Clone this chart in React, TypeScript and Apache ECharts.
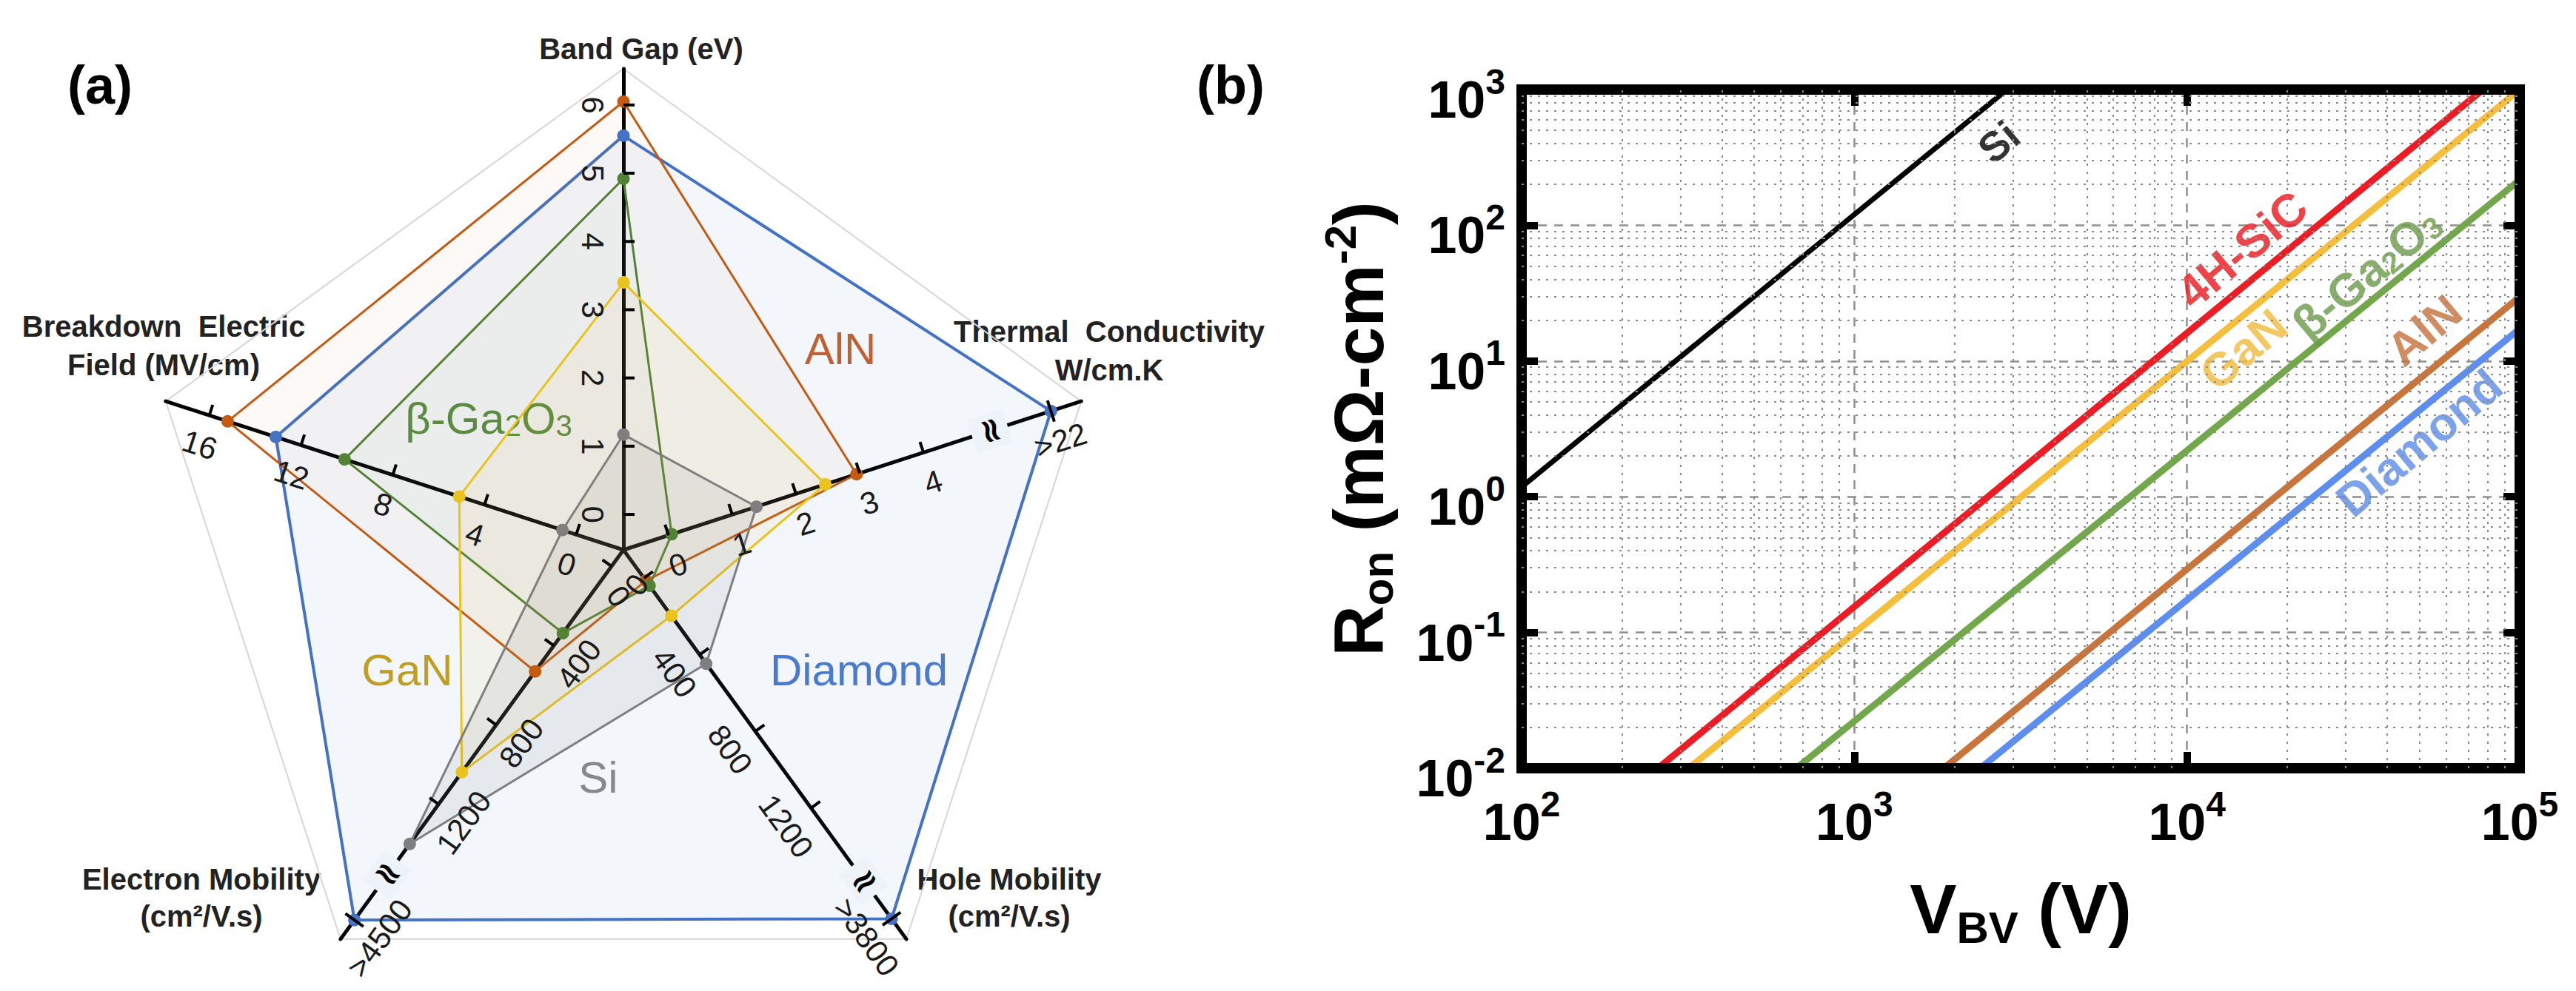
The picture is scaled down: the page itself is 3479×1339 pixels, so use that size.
import React, { useEffect, useRef } from 'react';
import * as echarts from 'echarts';

const FONT = "'Liberation Sans', Arial, Helvetica, sans-serif";

// ================= Panel (a): radar =================
// indicator order, counter-clockwise from the top
const indicatorNames = ['Band Gap', 'Breakdown Electric Field', 'Electron Mobility', 'Hole Mobility', 'Thermal Conductivity'];
const indicatorMin = [-0.52, -2.06, -83, -147, -0.707];
const indicatorMax = [6.53, 17.9, 1880, 1884, 6.475];

const materialsA = ['Diamond', 'AlN', 'β-Ga2O3', 'GaN', 'Si'];
const bandGapEV = [5.55, 6.05, 4.92, 3.4, 1.17];
const breakdownMVcm = [13.1, 15.2, 10.1, 5.1, 0.6];
const electronMobility = [4500, 530, 337, 1038, 1400];
const holeMobility = [3800, 14, 40, 197, 447];
const thermalConductivity = [22, 2.95, 0.05, 2.46, 1.38];

const bandGapTicks = [0, 1, 2, 3, 4, 5, 6];
const breakdownTicks = [0, 4, 8, 12, 16];
const electronTicks = [0, 400, 800, 1200];
const holeTicks = [0, 400, 800, 1200];
const thermalTicks = [0, 1, 2, 3, 4];

// broken axes: values above the threshold are drawn past the break symbol
const breakThreshold = [Infinity, Infinity, 1500, 1500, 5];
const breakSymbolAt = [NaN, NaN, 1557, 1578, 5.04];
const overflowDrawnAt = [NaN, NaN, 1784, 1778, 6.0];
const overflowLabels = ['', '', '>4500', '>3800', '>22'];

const colorsA = ['#4472c4', '#c55a11', '#548235', '#e9c41f', '#7f7f7f'];
const fillsA = ['rgba(68,114,196,0.09)', 'rgba(197,90,17,0.05)', 'rgba(84,130,53,0.05)', 'rgba(233,196,31,0.09)', 'rgba(127,127,127,0.17)'];
const textColorsA = ['#4a7bd0', '#c8602a', '#5b8f3b', '#c9a21a', '#8a8a8a'];

// ================= Panel (b): Ron vs VBV =================
const lineNames = ['Si', '4H-SiC', 'GaN', 'β-Ga2O3', 'AlN', 'Diamond'];
const lineStartV = [100, 257, 318, 670, 1858, 2393];
const lineStartR = [1.18, 0.01, 0.01, 0.01, 0.01, 0.01];
const lineEndV = [2877, 77500, 100000, 100000, 100000, 100000];
const lineEndR = [1000, 1000, 1000, 216, 29.7, 17.3];
const lineColors = ['#000000', '#ec1c24', '#f5be3c', '#72a84a', '#c9743a', '#5b8ef0'];
const lineLabelV = [2717, 14620, 14750, 34600, 51600, 49800];
const lineLabelR = [410, 66.4, 12.2, 44.5, 16.9, 2.5];
const lineLabelColors = ['#000000', '#e8141c', '#f0b93a', '#6a9a46', '#c4703a', '#5a8be6'];

const minorMantissas = [2, 3, 4, 5, 6, 7, 8, 9];
const xDecades = [100, 1000, 10000];
const yDecades = [0.01, 0.1, 1, 10, 100];

export default function App() {
  const ref = useRef<HTMLDivElement>(null);
  useEffect(() => {
    document.body.style.margin = '0';
    const chart = echarts.init(ref.current!, null, { renderer: 'svg' });

    const axisValues = [bandGapEV, breakdownMVcm, electronMobility, holeMobility, thermalConductivity];
    const drawn = (i: number, v: number) => (v > breakThreshold[i] ? overflowDrawnAt[i] : v);

    const axisTicks = [bandGapTicks, breakdownTicks, electronTicks, holeTicks, thermalTicks];
    const axisAngle = [0, 72, 144, 216, 288];
    const labelSide = [1, 1, 1, -1, -1];
    const norm = (i: number, v: number) => (v - indicatorMin[i]) / (indicatorMax[i] - indicatorMin[i]);
    const tickItems: { axis: number; r: number; text: string; kind: string }[] = [];
    axisTicks.forEach((ts, i) => ts.forEach((t) => tickItems.push({ axis: i, r: norm(i, t), text: String(t), kind: 'tick' })));
    [2, 3, 4].forEach((i) => {
      tickItems.push({ axis: i, r: norm(i, breakSymbolAt[i]), text: '≈', kind: 'break' });
      tickItems.push({ axis: i, r: norm(i, overflowDrawnAt[i]), text: overflowLabels[i], kind: 'over' });
    });

    const radarData = materialsA.map((m, k) => ({
      name: m,
      value: axisValues.map((arr, i) => drawn(i, arr[k])),
      symbol: 'circle',
      symbolSize: 17,
      lineStyle: { color: colorsA[k], width: k === 0 ? 4 : 3 },
      itemStyle: { color: colorsA[k] },
      areaStyle: { color: fillsA[k] },
    }));

    const powRich = {
      b: { fontSize: 70, fontWeight: 'bold', fontFamily: FONT, color: '#000', lineHeight: 70, padding: [28, 0, 0, 0] },
      s: { fontSize: 48, fontWeight: 'bold', fontFamily: FONT, color: '#000', lineHeight: 48, verticalAlign: 'top' },
    };
    const powLabel = (v: number) => `{b|10}{s|${Math.round(Math.log10(v))}}`;
    const titleRich = {
      m: { fontSize: 95, fontWeight: 'bold', fontFamily: FONT, color: '#000', lineHeight: 110 },
      sub: { fontSize: 60, fontWeight: 'bold', fontFamily: FONT, color: '#000', lineHeight: 60, verticalAlign: 'bottom' },
      sup: { fontSize: 60, fontWeight: 'bold', fontFamily: FONT, color: '#000', lineHeight: 60, verticalAlign: 'top' },
    };
    const tick = { show: true, inside: true, length: 22, lineStyle: { color: '#000', width: 10 } };
    const majorGrid = { show: true, lineStyle: { type: [12, 10], color: '#8f8f8f', width: 2.5 } };

    const minorX: number[] = [];
    xDecades.forEach((d) => minorMantissas.forEach((m) => minorX.push(m * d)));
    const minorY: number[] = [];
    yDecades.forEach((d) => minorMantissas.forEach((m) => minorY.push(+(m * d).toPrecision(3))));

    const labelRich = (color: string, size: number) => ({
      n: { fontSize: size, fontWeight: 'bold', fontFamily: FONT, color },
      s: { fontSize: Math.round(size * 0.65), fontWeight: 'bold', fontFamily: FONT, color, verticalAlign: 'bottom', lineHeight: size * 0.9 },
    });

    const option: any = {
      animation: false,
      backgroundColor: '#ffffff',
      textStyle: { fontFamily: FONT },
      radar: {
        center: [842, 743],
        radius: 650,
        startAngle: 90,
        splitNumber: 1,
        shape: 'polygon',
        indicator: indicatorNames.map((n, i) => ({ name: n, min: indicatorMin[i], max: indicatorMax[i] })),
        axisName: { show: false },
        axisLine: { lineStyle: { color: '#000', width: 5 } },
        splitLine: { lineStyle: { color: '#d6d6d6', width: 2 } },
        splitArea: { show: false },
        axisTick: { show: false },
        axisLabel: { show: false },
      },
      polar: { center: [842, 743], radius: 650 },
      angleAxis: { type: 'value', min: 0, max: 360, startAngle: 90, clockwise: false, show: false },
      radiusAxis: { type: 'value', min: 0, max: 1, show: false },
      grid: { left: 2055, top: 121, width: 1348, height: 917, show: true, borderColor: '#000', borderWidth: 14, z: 5 },
      xAxis: [
        {
          type: 'log', logBase: 10, min: 100, max: 100000, position: 'bottom',
          axisLine: { show: false }, axisTick: tick, minorTick: { show: false },
          axisLabel: { formatter: powLabel, margin: 24, rich: powRich },
          splitLine: majorGrid,
          name: '{m|V}{sub|BV}{m| (V)}', nameLocation: 'middle', nameGap: 135, nameMoveOverlap: false,
          nameTextStyle: { rich: titleRich },
        },
        {
          type: 'log', logBase: 10, min: 100, max: 100000, position: 'top',
          axisLine: { show: false }, axisTick: tick, axisLabel: { show: false }, splitLine: { show: false },
        },
      ],
      yAxis: [
        {
          type: 'log', logBase: 10, min: 0.01, max: 1000, position: 'left',
          axisLine: { show: false }, axisTick: tick, minorTick: { show: false },
          axisLabel: { formatter: powLabel, margin: 22, rich: powRich },
          splitLine: majorGrid,
          name: '{m|R}{sub|on}{m| (mΩ-cm}{sup|-2}{m|)}', nameLocation: 'middle', nameGap: 165, nameRotate: 90, nameMoveOverlap: false,
          nameTextStyle: { rich: titleRich },
        },
        {
          type: 'log', logBase: 10, min: 0.01, max: 1000, position: 'right',
          axisLine: { show: false }, axisTick: tick, axisLabel: { show: false }, splitLine: { show: false },
        },
      ],
      series: [
        {
          type: 'radar', radarIndex: 0, z: 2, silent: true,
          data: radarData,
        },
        {
          type: 'custom', coordinateSystem: 'polar', polarIndex: 0, z: 6, silent: true,
          data: tickItems.map((t, k) => [t.r, axisAngle[t.axis], k]),
          renderItem: (params: any, api: any) => {
            const t = tickItems[api.value(2)];
            const r = api.value(0), a = api.value(1);
            const p = api.coord([r, a]);
            const q = api.coord([r + 0.1, a]);
            let ux = q[0] - p[0], uy = q[1] - p[1];
            const L = Math.hypot(ux, uy) || 1; ux /= L; uy /= L;
            const theta = Math.atan2(-uy, ux);
            const s = labelSide[t.axis];
            const nx = -s * Math.sin(theta), ny = -s * Math.cos(theta);
            let rotDeg = (theta * 180) / Math.PI;
            if (rotDeg > 89) rotDeg -= 180;
            if (rotDeg < -90) rotDeg += 180;
            const rot = (rotDeg * Math.PI) / 180;
            const children: any[] = [];
            if (t.kind === 'break') {
              children.push({
                type: 'text', x: p[0], y: p[1], rotation: rot + Math.PI / 2,
                style: { text: '≈', fontSize: 46, fontWeight: 'bold', fontFamily: 'DejaVu Sans', fill: '#000', align: 'center', verticalAlign: 'middle', backgroundColor: 'rgb(238,243,250)', padding: [2, 4] },
              });
            } else {
              const tl = 15;
              const x1 = t.kind === 'over' ? p[0] + nx * tl : p[0];
              const y1 = t.kind === 'over' ? p[1] + ny * tl : p[1];
              children.push({ type: 'line', shape: { x1, y1, x2: p[0] - nx * tl, y2: p[1] - ny * tl }, style: { stroke: '#000', lineWidth: 4 } });
              const off = 42;
              children.push({
                type: 'text', x: p[0] + nx * off, y: p[1] + ny * off, rotation: rot,
                style: { text: t.text, fontSize: 42, fontFamily: FONT, fill: '#1a1a1a', align: 'center', verticalAlign: 'middle' },
              });
            }
            return { type: 'group', children };
          },
        },
        {
          type: 'line', xAxisIndex: 0, yAxisIndex: 0, z: 1, silent: true,
          data: [[100, 0.01]], showSymbol: false, symbol: 'none', lineStyle: { opacity: 0 },
          markLine: {
            silent: true, symbol: ['none', 'none'], label: { show: false },
            lineStyle: { type: [3, 8], color: '#8a8a8a', width: 2 },
            data: [...minorX.map((v) => ({ xAxis: v })), ...minorY.map((v) => ({ yAxis: v }))],
          },
        },
        ...lineNames.map((n, i) => ({
          type: 'line', name: n, xAxisIndex: 0, yAxisIndex: 0, z: 3, silent: true,
          data: [[lineStartV[i], lineStartR[i]], [lineEndV[i], lineEndR[i]]],
          showSymbol: false, symbol: 'none',
          lineStyle: { color: lineColors[i], width: i === 0 ? 7 : 9 },
        })),
        {
          type: 'scatter', xAxisIndex: 0, yAxisIndex: 0, z: 4, silent: true,
          symbol: 'circle', symbolSize: 1, itemStyle: { color: 'rgba(0,0,0,0)' },
          data: lineNames.map((n, i) => ({
            value: [lineLabelV[i], lineLabelR[i]],
            label: {
              show: true, position: 'inside', rotate: 40,
              formatter: n === 'β-Ga2O3' ? '{n|β-Ga}{s|2}{n|O}{s|3}' : `{n|${n}}`,
              rich: labelRich(lineLabelColors[i], i === 0 ? 56 : 63),
            },
          })),
        },
      ],
      graphic: [
        { type: 'text', x: 135, y: 115, style: { text: '(a)', fontSize: 72, fontWeight: 'bold', fontFamily: FONT, fill: '#000', align: 'center', verticalAlign: 'middle' } },
        { type: 'text', x: 1662, y: 115, style: { text: '(b)', fontSize: 72, fontWeight: 'bold', fontFamily: FONT, fill: '#000', align: 'center', verticalAlign: 'middle' } },
        { type: 'text', x: 866, y: 66, style: { text: 'Band Gap (eV)', fontSize: 40, fontWeight: 'bold', fontFamily: FONT, fill: '#222', align: 'center', verticalAlign: 'middle' } },
        { type: 'text', x: 1498, y: 474, style: { text: 'Thermal  Conductivity\nW/cm.K', fontSize: 40, lineHeight: 52, fontWeight: 'bold', fontFamily: FONT, fill: '#222', align: 'center', verticalAlign: 'middle' } },
        { type: 'text', x: 221, y: 467, style: { text: 'Breakdown  Electric\nField (MV/cm)', fontSize: 40, lineHeight: 52, fontWeight: 'bold', fontFamily: FONT, fill: '#222', align: 'center', verticalAlign: 'middle' } },
        { type: 'text', x: 272, y: 1213, style: { text: 'Electron Mobility\n(cm²/V.s)', fontSize: 40, lineHeight: 50, fontWeight: 'bold', fontFamily: FONT, fill: '#222', align: 'center', verticalAlign: 'middle' } },
        { type: 'text', x: 1363, y: 1213, style: { text: 'Hole Mobility\n(cm²/V.s)', fontSize: 40, lineHeight: 50, fontWeight: 'bold', fontFamily: FONT, fill: '#222', align: 'center', verticalAlign: 'middle' } },
        { type: 'text', x: 1135, y: 471, style: { text: 'AlN', fontSize: 60, fontFamily: FONT, fill: textColorsA[1], align: 'center', verticalAlign: 'middle' } },
        {
          type: 'text', x: 660, y: 565,
          style: {
            text: '{n|β-Ga}{s|2}{n|O}{s|3}', align: 'center', verticalAlign: 'middle',
            rich: {
              n: { fontSize: 60, fontFamily: FONT, fill: textColorsA[2], color: textColorsA[2] },
              s: { fontSize: 40, fontFamily: FONT, fill: textColorsA[2], color: textColorsA[2], verticalAlign: 'bottom', lineHeight: 56 },
            },
          },
        },
        { type: 'text', x: 550, y: 905, style: { text: 'GaN', fontSize: 60, fontFamily: FONT, fill: textColorsA[3], align: 'center', verticalAlign: 'middle' } },
        { type: 'text', x: 1160, y: 905, style: { text: 'Diamond', fontSize: 60, fontFamily: FONT, fill: textColorsA[0], align: 'center', verticalAlign: 'middle' } },
        { type: 'text', x: 808, y: 1050, style: { text: 'Si', fontSize: 60, fontFamily: FONT, fill: textColorsA[4], align: 'center', verticalAlign: 'middle' } },
      ],
    };
    chart.setOption(option);
    return () => chart.dispose();
  }, []);
  return <div ref={ref} style={{ position: 'absolute', left: 0, top: 0, width: 3479, height: 1339, background: '#fff' }} />;
}
